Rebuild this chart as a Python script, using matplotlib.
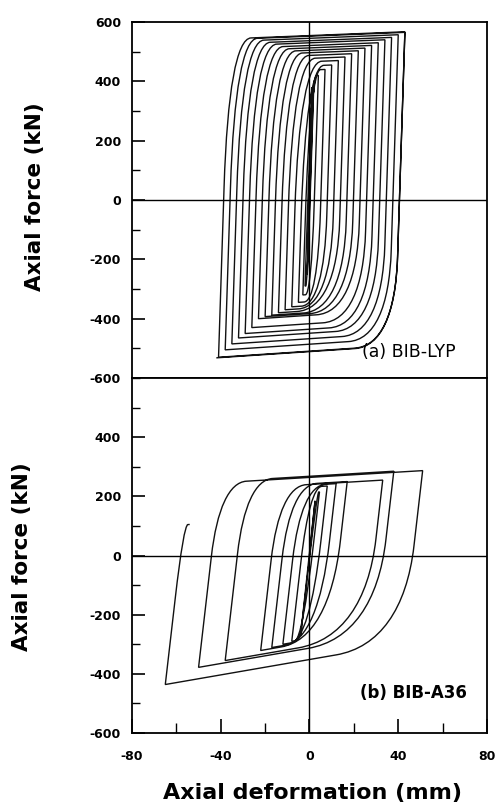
import numpy as np
import matplotlib.pyplot as plt
from matplotlib.path import Path
from matplotlib.patches import PathPatch
from matplotlib.ticker import MultipleLocator

plt.rcParams['axes.unicode_minus'] = False

# reversal points (mm, kN), in loading order
lyp_disp = [1, -1, 2, -2, 4, -3, 7, -5, 10, -8, 13, -11, 16, -14, 19, -17, 22, -20,
            25, -23, 28, -26, 31, -29, 34, -32, 37, -35, 40, -38, 43, -41, 43, -42]
lyp_force = [380, -250, 400, -290, 420, -320, 440, -345, 455, -360, 470, -370, 482, -380,
             493, -388, 503, -393, 512, -400, 521, -430, 530, -450, 540, -465, 548, -485,
             557, -505, 565, -530, 567, -532]

a36_disp = [2.5, -4, 4.5, -8, 8, -12, 12, -17, 17, -22, 33, -38, 38, -50, 51, -65, -54]
a36_force = [185, -270, 215, -290, 235, -300, 243, -311, 250, -321, 255, -355, 285, -378,
             287, -436, 105]

# x ticks / y ticks
x_ticks = [-80, -40, 0, 40, 80]
top_yticks = [600, 400, 200, 0, -200, -400, -600]
bot_yticks = [400, 200, 0, -200, -400, -600]


def hysteresis_path(disp, force, K, Ht, Hc, rt, rc):
    # elastic branch (stiffness K) joined to a hardening branch by a bezier corner
    verts = [(0.0, 0.0)]
    codes = [Path.MOVETO]
    x0, f0 = 0.0, 0.0
    for x1, f1 in zip(disp, force):
        s = 1 if f1 > f0 else -1
        H = Ht if s > 0 else Hc
        ra, rb = rt if s > 0 else rc
        xc = (f1 - f0 + K * x0 - H * x1) / (K - H)
        fc = f1 + H * (xc - x1)
        if (x1 - xc) * s <= 0:
            verts.append((x1, f1))
            codes.append(Path.LINETO)
        else:
            ra_e = min(ra, 0.7 * abs(fc - f0))
            fa = fc - s * ra_e
            xa = x0 + (fa - f0) / K
            rb_e = min(rb, 0.7 * abs(x1 - xc))
            xb = xc + s * rb_e
            fb = f1 + H * (xb - x1)
            k = 0.65
            verts += [(xa, fa),
                      (xa + k * (xc - xa), fa + k * (fc - fa)),
                      (xb + k * (xc - xb), fb + k * (fc - fb)),
                      (xb, fb),
                      (x1, f1)]
            codes += [Path.LINETO, Path.CURVE4, Path.CURVE4, Path.CURVE4, Path.LINETO]
        x0, f0 = x1, f1
    return Path(verts, codes)


fig = plt.figure(figsize=(4.95, 8.05), dpi=100)
ax1 = fig.add_axes([0.2667, 0.5304, 0.7171, 0.4423])
ax2 = fig.add_axes([0.2667, 0.0894, 0.7171, 0.4410])

p1 = hysteresis_path(lyp_disp, lyp_force, 230, 0.3, 0.5, (500, 10), (300, 18))
ax1.add_patch(PathPatch(p1, fill=False, ec='#111111', lw=1.0))
p2 = hysteresis_path(a36_disp, a36_force, 65, 0.45, 1.3, (250, 12), (330, 30))
ax2.add_patch(PathPatch(p2, fill=False, ec='#111111', lw=1.0))

for ax in (ax1, ax2):
    ax.set_xlim(-80, 80)
    ax.set_ylim(-600, 600)
    ax.axhline(0, color='black', lw=1.0)
    ax.axvline(0, color='black', lw=1.0)
    for sp in ax.spines.values():
        sp.set_linewidth(1.3)
    ax.yaxis.set_minor_locator(MultipleLocator(100))
    ax.tick_params(axis='y', which='major', direction='in', length=9, width=1.2,
                   labelsize=9, pad=8)
    ax.tick_params(axis='y', which='minor', direction='in', length=6, width=1.0)

ax1.set_yticks(top_yticks)
ax1.set_yticklabels([str(v) for v in top_yticks], fontweight='bold')
ax1.set_xticks([])
ax2.set_yticks(bot_yticks)
ax2.set_yticklabels([str(v) for v in bot_yticks], fontweight='bold')
ax2.set_xticks(x_ticks)
ax2.set_xticklabels([str(v) for v in x_ticks], fontweight='bold')
ax2.xaxis.set_minor_locator(MultipleLocator(20))
ax2.tick_params(axis='x', which='major', direction='in', length=10, width=1.2,
                labelsize=9, pad=12)
ax2.tick_params(axis='x', which='minor', direction='in', length=7, width=1.0)

ax1.text(0.648, 0.073, '(a) BIB-LYP', transform=ax1.transAxes, fontsize=12.5,
         ha='left', va='center')
ax2.text(0.642, 0.113, '(b) BIB-A36', transform=ax2.transAxes, fontsize=12,
         fontweight='bold', ha='left', va='center')

fig.text(0.070, 1 - 197 / 805, 'Axial force (kN)', rotation=90, fontsize=15.5,
         fontweight='bold', ha='center', va='center')
fig.text(0.045, 1 - 557 / 805, 'Axial force (kN)', rotation=90, fontsize=15.5,
         fontweight='bold', ha='center', va='center')
fig.text(0.632, 1 - 793 / 805, 'Axial deformation (mm)', fontsize=16,
         fontweight='bold', ha='center', va='center')

fig.savefig('out.png', dpi=100)
